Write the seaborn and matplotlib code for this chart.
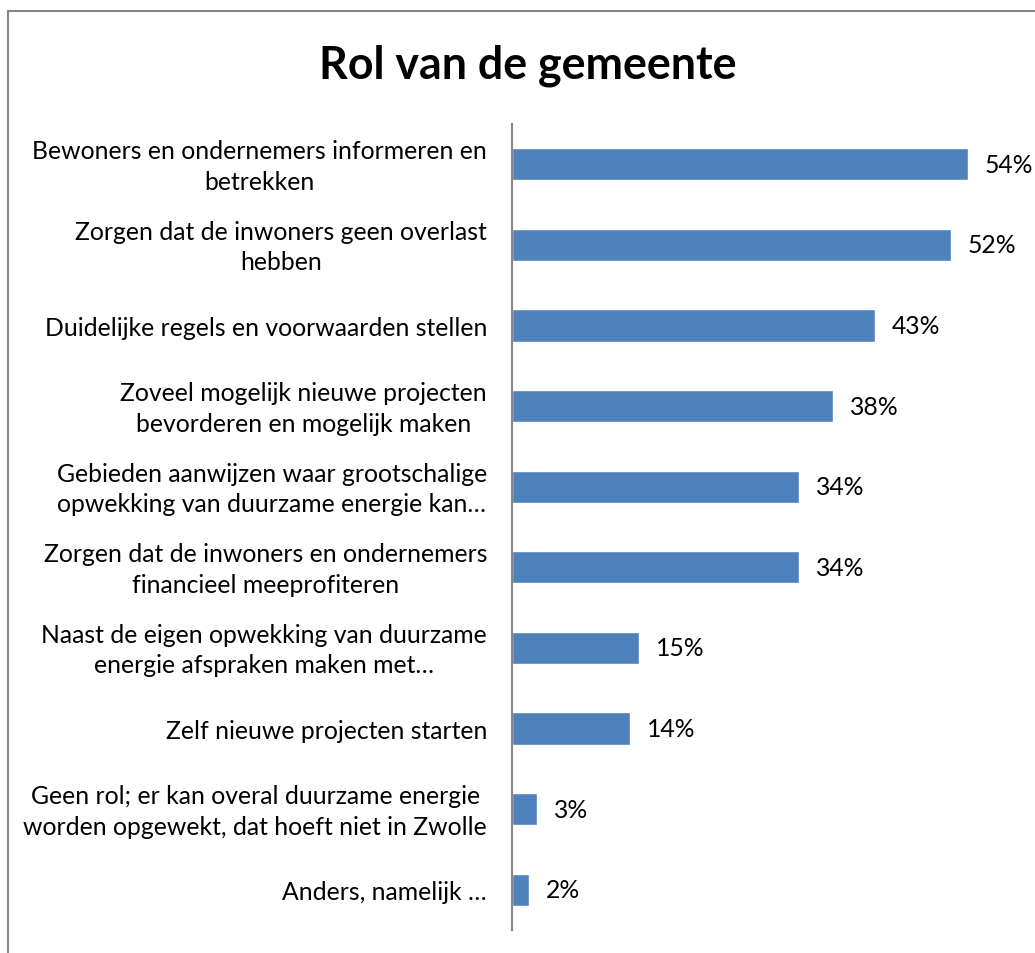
import numpy as np
import pandas as pd
import matplotlib
matplotlib.use('Agg')
import matplotlib.pyplot as plt
import matplotlib.transforms as mtransforms
import seaborn as sns

# Rol van de gemeente - horizontal bar chart
categories = [
    "Bewoners en ondernemers informeren en\nbetrekken",
    "Zorgen dat de inwoners geen overlast\nhebben",
    "Duidelijke regels en voorwaarden stellen",
    "Zoveel mogelijk nieuwe projecten\nbevorderen en mogelijk maken",
    "Gebieden aanwijzen waar grootschalige\nopwekking van duurzame energie kan\u2026",
    "Zorgen dat de inwoners en ondernemers\nfinancieel meeprofiteren",
    "Naast de eigen opwekking van duurzame\nenergie afspraken maken met\u2026",
    "Zelf nieuwe projecten starten",
    "Geen rol; er kan overal duurzame energie\nworden opgewekt, dat hoeft niet in Zwolle",
    "Anders, namelijk \u2026",
]
values = [54, 52, 43, 38, 34, 34, 15, 14, 3, 2]

df = pd.DataFrame({'rol': categories, 'pct': values})

sns.set_style('white')
plt.rcParams['font.family'] = ['Lato', 'DejaVu Sans']
plt.rcParams['text.color'] = 'black'
plt.rcParams['ytick.color'] = 'black'

fig = plt.figure(figsize=(10.35, 9.54), dpi=100)
ax = fig.add_axes([512/1035, 23/954, 488/1035, 806/954])

sns.barplot(data=df, x='pct', y='rol', color='#4F81BD', width=0.4,
            saturation=1, ax=ax, orient='h')

ax.set_xlim(0, 488/8.44)
ax.set_ylim(9.5, -0.5)
ax.set_xlabel('')
ax.set_ylabel('')
ax.set_xticks([])
for s in ['top', 'right', 'bottom']:
    ax.spines[s].set_visible(False)
ax.spines['left'].set_color('#868686')
ax.spines['left'].set_linewidth(1.5)
ax.tick_params(axis='y', length=0, pad=18, labelsize=17.8, labelcolor='black')
shift_up = mtransforms.ScaledTranslation(0, 4/100, fig.dpi_scale_trans)
for lab in ax.get_yticklabels():
    lab.set_multialignment('center')
    lab.set_linespacing(1.4)
    if '\n' in lab.get_text():
        lab.set_transform(lab.get_transform() + shift_up)

for i, v in enumerate(values):
    ax.text(v + 2.0, i, f'{v}%', va='center', ha='left', fontsize=17.8, color='black')

fig.text(528/1035, 1 - 66/954, 'Rol van de gemeente', ha='center', va='center',
         fontsize=32.2, fontweight='bold', color='black')

# outer chart border
border = plt.Rectangle((8/1035, -0.05), 1.1, 1 - 12/954 + 0.05, transform=fig.transFigure,
                       fill=False, edgecolor='#868686', linewidth=1.5)
fig.add_artist(border)

fig.savefig('out.png', dpi=100)
